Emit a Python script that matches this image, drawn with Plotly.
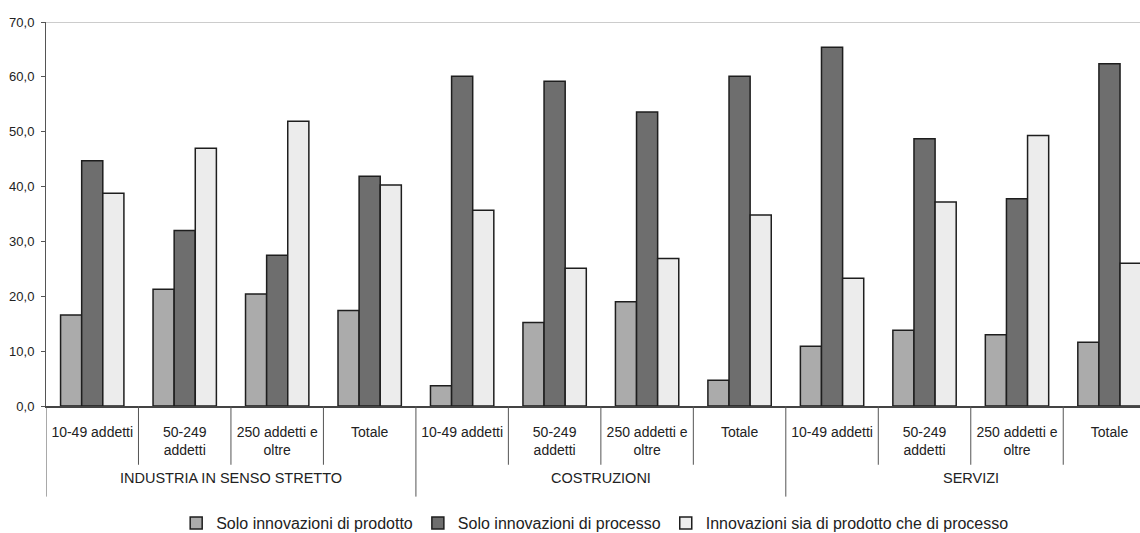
import plotly.graph_objects as go

# Sub-categories (firm size classes) repeated for each sector
size_classes = ["10-49 addetti", "50-249<br>addetti", "250 addetti e<br>oltre", "Totale"]
sectors = ["INDUSTRIA IN SENSO STRETTO", "COSTRUZIONI", "SERVIZI"]
tick_labels = size_classes * len(sectors)

# Percentages per series
solo_prodotto = [16.6, 21.3, 20.4, 17.4, 3.7, 15.2, 19.0, 4.7, 10.9, 13.8, 13.0, 11.6]
solo_processo = [44.7, 32.0, 27.5, 41.9, 60.1, 59.2, 53.6, 60.1, 65.4, 48.7, 37.8, 62.4]
entrambi = [38.8, 47.0, 51.9, 40.3, 35.7, 25.1, 26.9, 34.8, 23.3, 37.2, 49.3, 26.0]

series_names = [
    "Solo innovazioni di prodotto",
    "Solo innovazioni di processo",
    "Innovazioni sia di prodotto che di processo",
]
series_values = [solo_prodotto, solo_processo, entrambi]
series_colors = ["#ababab", "#6e6e6e", "#ececec"]

y_ticks = [0, 10, 20, 30, 40, 50, 60, 70]
y_tick_text = ["0,0", "10,0", "20,0", "30,0", "40,0", "50,0", "60,0", "70,0"]

FONT = "Liberation Sans, Arial, sans-serif"
x_pos = list(range(len(tick_labels)))

fig = go.Figure()
for name, vals, col in zip(series_names, series_values, series_colors):
    fig.add_trace(go.Bar(
        x=x_pos, y=vals, name=name,
        marker=dict(color=col, line=dict(color="#1e1e1e", width=1.5)),
    ))

# Divider depths (paper units below the plot)
inner_depth = -0.153
group_depth = -0.236

shapes = []
n_per = len(size_classes)
for k in range(len(tick_labels) + 1):
    xb = k - 0.5
    is_group = (k % n_per == 0)
    shapes.append(dict(
        type="line", xref="x", yref="paper", x0=xb, x1=xb,
        y0=0, y1=group_depth if is_group else inner_depth,
        line=dict(color="#555555", width=1),
    ))
# top border of the plot
shapes.append(dict(type="line", xref="paper", yref="y", x0=0, x1=1, y0=70, y1=70,
                   line=dict(color="#9a9a9a", width=1.2)))

annotations = []
for i, s in enumerate(sectors):
    annotations.append(dict(
        x=i * n_per + (n_per - 1) / 2, xref="x", y=-0.1875, yref="paper",
        text=s, showarrow=False, yanchor="middle",
        font=dict(family=FONT, size=14.5, color="#222222"),
    ))

fig.update_layout(
    width=1140, height=533,
    margin=dict(l=46, r=0, t=22, b=127, autoexpand=False),
    paper_bgcolor="white", plot_bgcolor="white",
    barmode="group", bargap=0.315, bargroupgap=0,
    font=dict(family=FONT, size=13, color="#222222"),
    shapes=shapes, annotations=annotations,
    showlegend=True,
    legend=dict(orientation="h", x=0.502, xanchor="center", y=-0.305, yanchor="middle",
                font=dict(family=FONT, size=16, color="#222222"),
                itemwidth=30, tracegroupgap=0, bgcolor="rgba(0,0,0,0)"),
    xaxis=dict(
        range=[-0.5, 11.33], tickmode="array", tickvals=x_pos, ticktext=tick_labels,
        ticks="", showgrid=False, zeroline=False,
        showline=True, linecolor="#444444", linewidth=1.5,
        tickfont=dict(family=FONT, size=14, color="#222222"),
        ticklabelstandoff=12,
    ),
    yaxis=dict(
        range=[0, 70], tickmode="array", tickvals=y_ticks, ticktext=y_tick_text,
        ticks="outside", ticklen=4, tickcolor="#555555",
        showgrid=False, zeroline=False,
        showline=True, linecolor="#555555", linewidth=1,
        tickfont=dict(family=FONT, size=13, color="#222222"),
        ticklabelstandoff=4,
    ),
)

fig.write_html("out.html")
